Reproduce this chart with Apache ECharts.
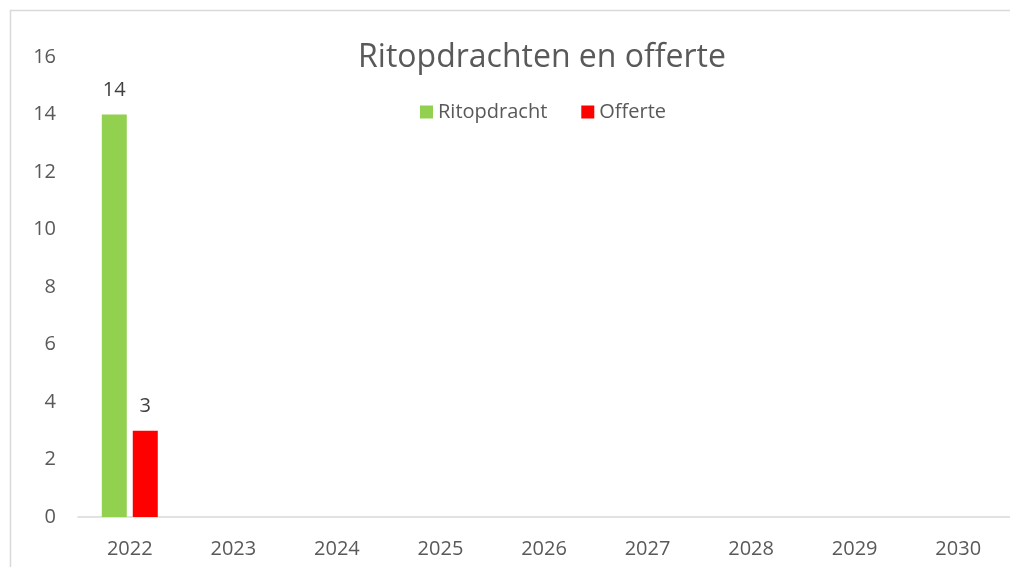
<!DOCTYPE html>
<html>
<head>
<meta charset="utf-8">
<script src="https://cdn.jsdelivr.net/npm/echarts@6/dist/echarts.min.js"></script>
<style>
html, body { margin: 0; padding: 0; background: #fff; }
#chart { width: 1010px; height: 567px; }
</style>
</head>
<body>
<div id="chart"></div>
<script>
var years = ['2022', '2023', '2024', '2025', '2026', '2027', '2028', '2029', '2030'];
var ritopdracht = [14, null, null, null, null, null, null, null, null];
var offerte = [3, null, null, null, null, null, null, null, null];
var yTicks = { min: 0, max: 16, interval: 2 };

var font = 'Open Sans';
var chart = echarts.init(document.getElementById('chart'));
var option = {
	backgroundColor: '#fff',
	textStyle: { fontFamily: font },
	// chart frame, only top and left edges fall inside the picture
	graphic: [{
		type: 'polyline',
		shape: { points: [[10.5, 700], [10.5, 10.5], [1200, 10.5]] },
		style: { fill: null, stroke: '#d9d9d9', lineWidth: 1.5 },
		silent: true
	}],
	title: {
		text: 'Ritopdrachten en offerte',
		left: 537,
		top: 37,
		textAlign: 'center',
		textStyle: { fontFamily: font, fontSize: 32, fontWeight: 'normal', color: '#595959' }
	},
	legend: {
		top: 97,
		left: 415,
		itemWidth: 13,
		itemHeight: 13,
		itemGap: 34,
		icon: 'rect',
		textStyle: { fontFamily: font, fontSize: 20, color: '#595959', padding: [0, 0, 0, 0] },
		data: ['Ritopdracht', 'Offerte']
	},
	grid: { left: 78, top: 57, width: 938, bottom: 50, containLabel: false },
	xAxis: {
		type: 'category',
		data: years,
		axisLine: { lineStyle: { color: '#d9d9d9', width: 1.5 } },
		axisTick: { show: false },
		axisLabel: { fontFamily: font, fontSize: 20, color: '#595959', margin: 22 }
	},
	yAxis: {
		type: 'value',
		min: yTicks.min,
		max: yTicks.max,
		interval: yTicks.interval,
		axisLine: { show: false },
		axisTick: { show: false },
		splitLine: { show: false },
		axisLabel: { fontFamily: font, fontSize: 20, color: '#595959', margin: 22 }
	},
	series: [{
		name: 'Ritopdracht',
		type: 'bar',
		data: ritopdracht,
		barWidth: 25,
		barGap: '24%',
		itemStyle: { color: '#92d050' },
		label: { show: true, position: 'top', distance: 14, fontFamily: font, fontSize: 20, color: '#404040' }
	}, {
		name: 'Offerte',
		type: 'bar',
		data: offerte,
		barWidth: 25,
		itemStyle: { color: '#ff0000' },
		label: { show: true, position: 'top', distance: 14, fontFamily: font, fontSize: 20, color: '#404040' }
	}]
};
chart.setOption(option);
</script>
</body>
</html>
